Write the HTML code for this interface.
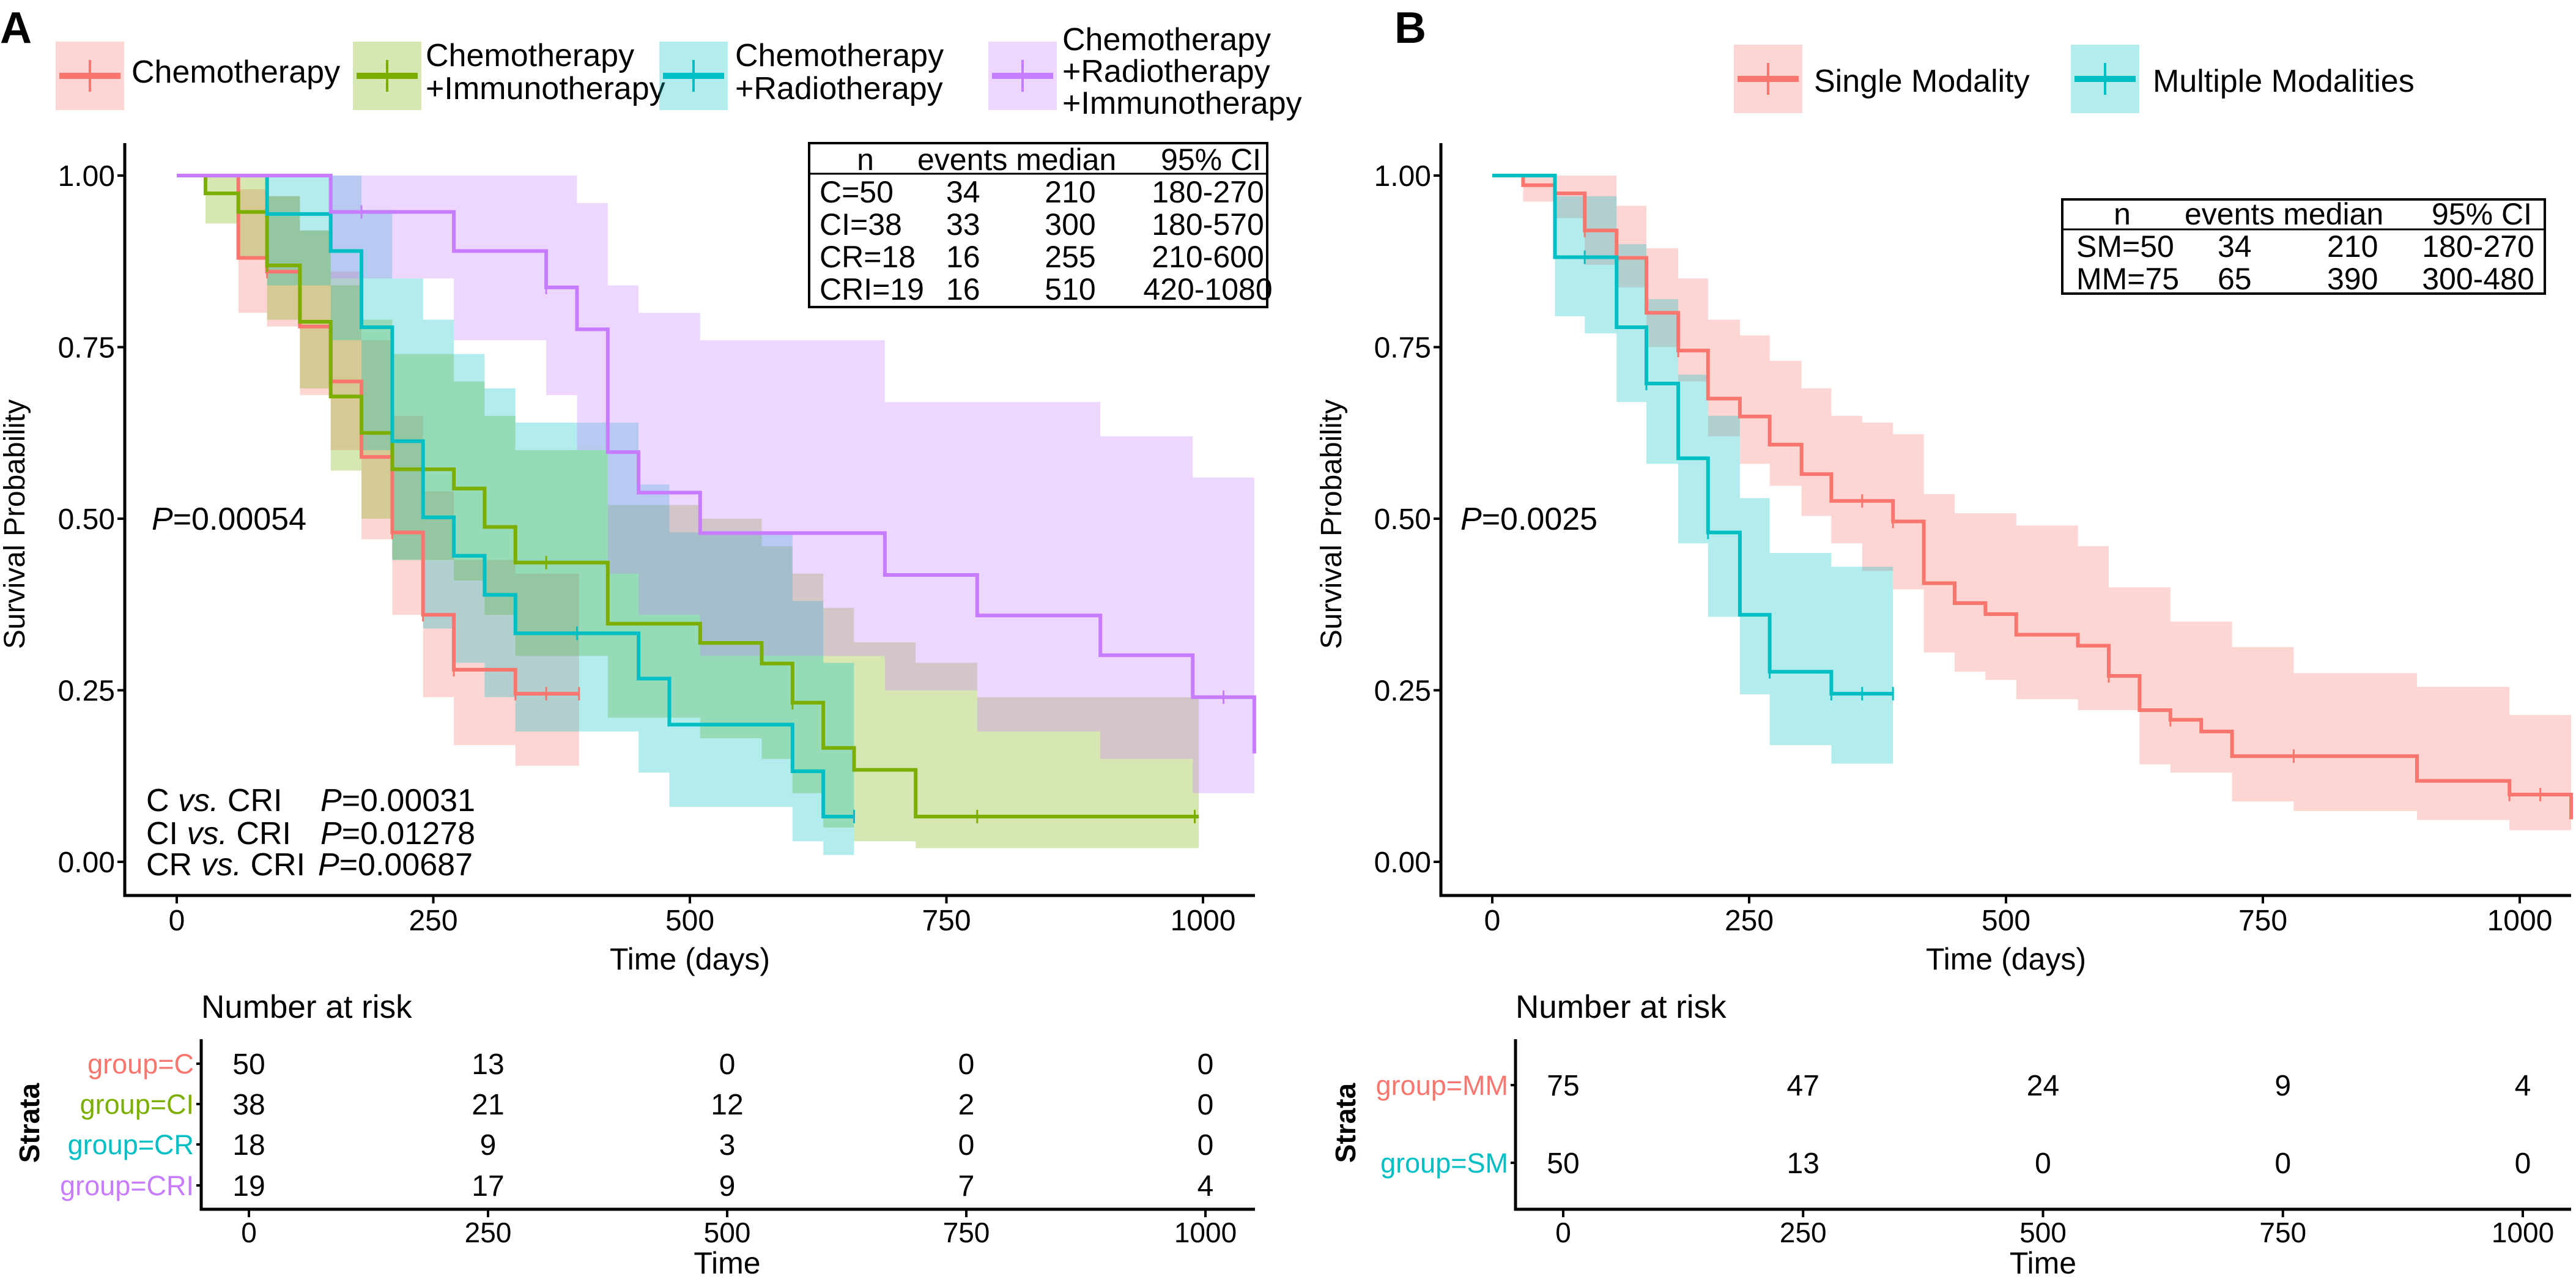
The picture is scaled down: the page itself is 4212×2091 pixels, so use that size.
<!DOCTYPE html>
<html><head><meta charset="utf-8"><style>
html,body{margin:0;padding:0;background:#fff}
svg{display:block}
text{font-family:"Liberation Sans",Arial,sans-serif}
</style></head><body>
<svg id="c" width="4212" height="2091" viewBox="0 0 4212 2091" xmlns="http://www.w3.org/2000/svg">
<text x="0" y="70" font-size="72" font-weight="bold">A</text>
<text x="2280" y="70" font-size="72" font-weight="bold">B</text>
<g id="gA"></g>
<g id="gB"></g>
</svg>
<script>
// ---- Panel A data ----
const tC=[0,60,88,120,150,180,210,240,270,330];
const sC=[1,.88,.86,.78,.70,.59,.48,.36,.28,.245];
const loC=[1,.80,.78,.68,.60,.47,.36,.24,.17,.14];
const hiC=[1,.98,.97,.92,.86,.76,.65,.54,.44,.42];
const cenC=[88,150,210,240,270,330,360,392];
const endC=392;
const tCI=[0,28,60,88,120,150,180,210,270,300,330,420,510,570,600,630,660,720,780];
const sCI=[1,.974,.947,.869,.787,.678,.625,.572,.544,.488,.436,.347,.319,.289,.232,.166,.134,.066,.066];
const loCI=[1,.93,.88,.79,.69,.57,.50,.44,.41,.36,.30,.21,.18,.15,.10,.05,.03,.02,.02];
const hiCI=[1,1,1,.97,.92,.84,.79,.74,.70,.65,.60,.52,.50,.46,.42,.37,.32,.29,.24];
const cenCI=[88,360,600,780,992];
const endCI=996;
const tCR=[0,88,150,180,210,240,270,300,330,450,480,600,630];
const sCR=[1,.944,.89,.779,.613,.502,.446,.389,.333,.267,.2,.132,.066];
const loCR=[1,.84,.76,.60,.44,.34,.29,.24,.19,.13,.08,.03,.01];
const hiCR=[1,1,1,.95,.85,.79,.74,.69,.64,.55,.48,.38,.29];
const cenCR=[390,660];
const endCR=660;
const tCRI=[0,150,270,360,390,420,450,510,690,780,900,990,1050];
const sCRI=[1,.947,.89,.837,.776,.597,.538,.479,.418,.359,.301,.24,.158];
const loCRI=[1,.85,.76,.68,.60,.42,.36,.30,.25,.19,.15,.10,.10];
const hiCRI=[1,1,1,1,.96,.84,.80,.76,.67,.67,.62,.56,.56];
const cenCRI=[180,360,1020];
const endCRI=1050;
// ---- Panel B data ----
const tSM=[0,30,61,90,121,150,181,210,241,270,301,330,360,390,420,450,480,510,570,600,630,660,690,720,780,900,990,1050];
const sSM=[1,.986,.974,.92,.88,.80,.745,.675,.649,.608,.565,.526,.526,.496,.406,.377,.361,.331,.315,.271,.221,.207,.19,.154,.154,.118,.098,.062];
const hiSM=[1,1,1,1,.956,.894,.85,.79,.767,.73,.69,.65,.64,.623,.536,.508,.508,.49,.46,.40,.40,.35,.35,.313,.275,.255,.214,.214];
const loSM=[1,.962,.938,.87,.837,.75,.70,.62,.58,.548,.504,.464,.424,.397,.305,.277,.265,.237,.221,.221,.142,.13,.13,.088,.074,.061,.046,.046];
const cenSM=[90,181,360,390,600,660,780,990,1020];
const endSM=1050;
const tMM=[0,61,90,121,150,181,210,241,270,330];
const sMM=[1,.881,.881,.779,.697,.588,.48,.36,.277,.245];
const hiMM=[1,.97,.97,.9,.82,.71,.65,.53,.45,.43];
const loMM=[1,.795,.77,.67,.58,.464,.357,.244,.17,.143];
const cenMM=[90,150,210,270,330,360,390];
const endMM=390;
// ---- ticks / risk tables ----
const xTicks=[0,250,500,750,1000];
const yTicks=[0,0.25,0.5,0.75,1];
const yTickLabels=["0.00","0.25","0.50","0.75","1.00"];
const riskA=[[50,13,0,0,0],[38,21,12,2,0],[18,9,3,0,0],[19,17,9,7,4]];
const riskALabels=["group=C","group=CI","group=CR","group=CRI"];
const riskB=[[75,47,24,9,4],[50,13,0,0,0]];
const riskBLabels=["group=MM","group=SM"];

const NS="http://www.w3.org/2000/svg";
const RED="#F8766D",OLV="#7CAE00",CYN="#00BFC4",PUR="#C77CFF";
function mk(tag,attrs,parent){const e=document.createElementNS(NS,tag);for(const k in attrs)e.setAttribute(k,attrs[k]);parent.appendChild(e);return e;}
function txt(parent,x,y,s,size,anchor,fill,extra){const e=mk('text',Object.assign({x:x,y:y,'font-size':size,'text-anchor':anchor||'start',fill:fill||'#000'},extra||{}),parent);e.textContent=s;return e;}

function panel(g,o){
  const X=t=>o.x0+o.kx*t, Y=s=>1409-1122*s;
  const ax=mk('path',{d:`M${o.ax} 234 V1464 H${o.axr}`,stroke:'#000','stroke-width':5,fill:'none'},g);
  
  
  yTicks.forEach((v,i)=>{
    mk('line',{x1:o.ax-12,x2:o.ax,y1:Y(v),y2:Y(v),stroke:'#000','stroke-width':4},g);
    const t=txt(g,o.ax-16,Y(v)+17,yTickLabels[i],48,'end');
    
    
  });
  xTicks.forEach(v=>{
    mk('line',{x1:X(v),x2:X(v),y1:1464,y2:1477,stroke:'#000','stroke-width':4},g);
    const t=txt(g,X(v),1521,String(v),48,'middle');
    
    
  });
  const xt=txt(g,(X(0)+X(1000))/2,1585,'Time (days)',50,'middle');
  
  
  const yt=txt(g,0,0,'Survival Probability',48,'middle',null,{transform:`translate(${o.ytx},857) rotate(-90)`});
  
  
  o.series.forEach(sr=>{
    const n=sr.t.length;let d='';
    for(let i=0;i<n;i++){const x1=X(sr.t[i]),x2=X(i<n-1?sr.t[i+1]:sr.end);d+=(i?'L':'M')+x1+' '+Y(sr.hi[i])+'L'+x2+' '+Y(sr.hi[i]);}
    for(let i=n-1;i>=0;i--){const x1=X(sr.t[i]),x2=X(i<n-1?sr.t[i+1]:sr.end);d+='L'+x2+' '+Y(sr.lo[i])+'L'+x1+' '+Y(sr.lo[i]);}
    const b=mk('path',{d:d+'Z',fill:sr.c,'fill-opacity':0.3,stroke:'none'},g);
    
    
  });
  o.series.forEach(sr=>{
    const n=sr.t.length;let d=`M${X(0)} ${Y(sr.s[0])}`;
    for(let i=1;i<n;i++){d+=`H${X(sr.t[i])}V${Y(sr.s[i])}`;}
    d+=`H${X(sr.end)}`;
    const l=mk('path',{d:d,stroke:sr.c,'stroke-width':6,fill:'none'},g);
    
    
    sr.cen.forEach(ct=>{
      let v=sr.s[0];for(let i=0;i<n;i++)if(sr.t[i]<=ct)v=sr.s[i];
      const m=mk('line',{x1:X(ct),x2:X(ct),y1:Y(v)-11,y2:Y(v)+11,stroke:sr.c,'stroke-width':3},g);
      
      
    });
  });
  const XR=t=>o.rx0+o.rk*t;
  const rl=mk('path',{d:`M${o.rax} 1699 V1977 H${o.axr}`,stroke:'#000','stroke-width':5,fill:'none'},g);
  
  
  const nr=txt(g,o.rax,1664,'Number at risk',53,'start');
  
  
  o.risk.forEach((row,ri)=>{
    const y=o.rows[ri];
    mk('line',{x1:o.rax-8,x2:o.rax,y1:y,y2:y,stroke:'#000','stroke-width':4},g);
    const lb=txt(g,o.rax-12,y+16,o.rlabels[ri],45,'end',o.rcols[ri]);
    
    
    row.forEach((v,ci)=>{
      const t=txt(g,XR(xTicks[ci]),y+17,String(v),48,'middle');
      
      
    });
  });
  xTicks.forEach(v=>{
    mk('line',{x1:XR(v),x2:XR(v),y1:1977,y2:1990,stroke:'#000','stroke-width':4},g);
    const t=txt(g,XR(v),2031,String(v),46,'middle');
    
    
  });
  const tt=txt(g,XR(500),2082,'Time',50,'middle');
  
  
  const st=txt(g,0,0,'Strata',46,'middle',null,{'font-weight':'bold',transform:`translate(${o.stx},1836) rotate(-90)`});
  
  
}
function legendKey(g,x,y,c,name){
  const k=mk('g',{},g);
  
  
  mk('rect',{x:x,y:y,width:112,height:112,fill:c,'fill-opacity':0.3},k);
  mk('line',{x1:x+6,x2:x+106,y1:y+56,y2:y+56,stroke:c,'stroke-width':10},k);
  mk('line',{x1:x+56,x2:x+56,y1:y+30,y2:y+82,stroke:c,'stroke-width':4},k);
}
function tableBox(g,x,y,w,h,hy,name){
  const r=mk('rect',{x:x,y:y,width:w,height:h,fill:'#fff',stroke:'#000','stroke-width':4},g);
  
  
  mk('line',{x1:x,x2:x+w,y1:hy,y2:hy,stroke:'#000','stroke-width':3},g);
}

const gA=document.getElementById('gA');
panel(gA,{x0:289,kx:1.678,ax:204,axr:2052,ytx:40,rx0:407,rk:1.564,rax:329,stx:64,
  rows:[1739,1805,1871,1938],risk:riskA,rlabels:riskALabels,rcols:[RED,OLV,CYN,PUR],
  series:[
   {k:'c',t:tC,s:sC,lo:loC,hi:hiC,cen:cenC,end:endC,c:RED},
   {k:'ci',t:tCI,s:sCI,lo:loCI,hi:hiCI,cen:cenCI,end:endCI,c:OLV},
   {k:'cr',t:tCR,s:sCR,lo:loCR,hi:hiCR,cen:cenCR,end:endCR,c:CYN},
   {k:'cri',t:tCRI,s:sCRI,lo:loCRI,hi:hiCRI,cen:cenCRI,end:endCRI,c:PUR}]});
legendKey(gA,91,68,RED,'legend-chemotherapy');
txt(gA,215,135,'Chemotherapy',52);
legendKey(gA,577,68,OLV,'legend-chemo-immuno');
txt(gA,696,108,'Chemotherapy',52);txt(gA,696,162,'+Immunotherapy',52);
legendKey(gA,1078,68,CYN,'legend-chemo-radio');
txt(gA,1202,108,'Chemotherapy',52);txt(gA,1202,162,'+Radiotherapy',52);
legendKey(gA,1616,68,PUR,'legend-chemo-radio-immuno');
txt(gA,1737,82,'Chemotherapy',52);txt(gA,1737,134,'+Radiotherapy',52);txt(gA,1737,186,'+Immunotherapy',52);
tableBox(gA,1323,234,749,268,284,'summary-table-a');
const tabA=[["n","events median","95% CI"],["C=50","34","210","180-270"],["CI=38","33","300","180-570"],["CR=18","16","255","210-600"],["CRI=19","16","510","420-1080"]];
txt(gA,1415,278,'n',50,'middle');txt(gA,1500,278,'events median',50);txt(gA,1980,278,'95% CI',50,'middle');
[331,384,437,490].forEach((y,i)=>{const r=tabA[i+1];txt(gA,1340,y,r[0],50);txt(gA,1547,y,r[1],50);txt(gA,1750,y,r[2],50,'middle');txt(gA,1975,y,r[3],50,'middle');});
const pA=txt(gA,248,866,'',52);pA.innerHTML='<tspan font-style="italic">P</tspan>=0.00054';


[[1326,'C','P=0.00031'],[1380,'CI','P=0.01278'],[1431,'CR','P=0.00687']].forEach(r=>{
  const a=txt(gA,239,r[0],'',52);a.innerHTML=r[1]+' <tspan font-style="italic">vs.</tspan> CRI';
  const b=txt(gA,r[1]==='CR'?520:524,r[0],'',52);b.innerHTML='<tspan font-style="italic">P</tspan>'+r[2].slice(1);
});

const gB=document.getElementById('gB');
panel(gB,{x0:2440,kx:1.68,ax:2356,axr:4204,ytx:2193,rx0:2556,rk:1.569,rax:2478,stx:2216,
  rows:[1774,1901],risk:riskB,rlabels:riskBLabels,rcols:[RED,CYN],
  series:[
   {k:'sm',t:tSM,s:sSM,lo:loSM,hi:hiSM,cen:cenSM,end:endSM,c:RED},
   {k:'mm',t:tMM,s:sMM,lo:loMM,hi:hiMM,cen:cenMM,end:endMM,c:CYN}]});
legendKey(gB,2835,73,RED,'legend-single-modality');
txt(gB,2966,150,'Single Modality',52);
legendKey(gB,3386,73,CYN,'legend-multiple-modalities');
txt(gB,3520,150,'Multiple Modalities',52);
tableBox(gB,3372,326,789,154,375,'summary-table-b');
txt(gB,3470,367,'n',50,'middle');txt(gB,3572,367,'events median',50);txt(gB,4058,367,'95% CI',50,'middle');
[[420,'SM=50','34','210','180-270'],[473,'MM=75','65','390','300-480']].forEach(r=>{txt(gB,3395,r[0],r[1],50);txt(gB,3626,r[0],r[2],50);txt(gB,3805,r[0],r[3],50);txt(gB,4052,r[0],r[4],50,'middle');});
const pB=txt(gB,2388,866,'',52);pB.innerHTML='<tspan font-style="italic">P</tspan>=0.0025';


</script>
</body></html>
